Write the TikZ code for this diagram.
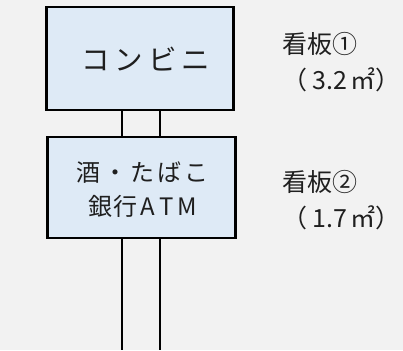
\documentclass[tikz,border=0pt]{standalone}
\usepackage{fontspec}
\setmainfont{Noto Sans CJK JP}
\definecolor{bg}{HTML}{F2F2F2}
\definecolor{boxfill}{HTML}{DEEAF6}
\begin{document}
\begin{tikzpicture}[x=1pt,y=-1pt,
  signbox/.style={draw=black, line width=2.2pt, fill=boxfill, inner sep=0pt},
  pole/.style={draw=black, line width=1.8pt},
  lbl/.style={anchor=west, inner sep=0pt, font=\fontsize{25}{28}\selectfont, text=black!88}]
\fill[bg] (0,0) rectangle (403,350);
\useasboundingbox (0,0) rectangle (403,350);
\coordinate (gl) at (122,350);
\coordinate (gr) at (160,350);
\node[signbox, minimum width=187pt, minimum height=103pt] (b1) at (140,58.5) {};
\node[signbox, minimum width=188pt, minimum height=101pt] (b2) at (141.5,187.5) {};
\draw[pole] (b1.south -| gl) -- (b2.north -| gl);
\draw[pole] (b1.south -| gr) -- (b2.north -| gr);
\draw[pole] (b2.south -| gl) -- (gl);
\draw[pole] (b2.south -| gr) -- (gr);
\node[signbox, minimum width=187pt, minimum height=103pt] at (b1) {};
\node[signbox, minimum width=188pt, minimum height=101pt] at (b2) {};
\node[inner sep=0pt, font=\fontsize{28.5}{30}\selectfont, text=black!88] (t1) at (146,59) {コ\hspace{5pt}ン\hspace{5pt}ビ\hspace{5pt}ニ};
\node[inner sep=0pt, font=\fontsize{24}{26}\selectfont, text=black!88] (t2a) at (142,172.5) {酒\hspace{3pt}・\hspace{3pt}た\hspace{3pt}ば\hspace{3pt}こ};
\node[inner sep=0pt, font=\fontsize{24}{26}\selectfont, text=black!88] (t2b) at (143,206.5) {銀\hspace{1pt}行\hspace{3pt}A\hspace{4pt}T\hspace{4pt}M};
\node[lbl] (s1a) at (282,44.5) {看板①};
\node[lbl] (s1b) at (282,80) {（\hspace{5pt}3.2\hspace{4pt}㎡）};
\node[lbl] (s2a) at (282,182) {看板②};
\node[lbl] (s2b) at (282,217.5) {（\hspace{5pt}1.7\hspace{4pt}㎡）};
\end{tikzpicture}
\end{document}
